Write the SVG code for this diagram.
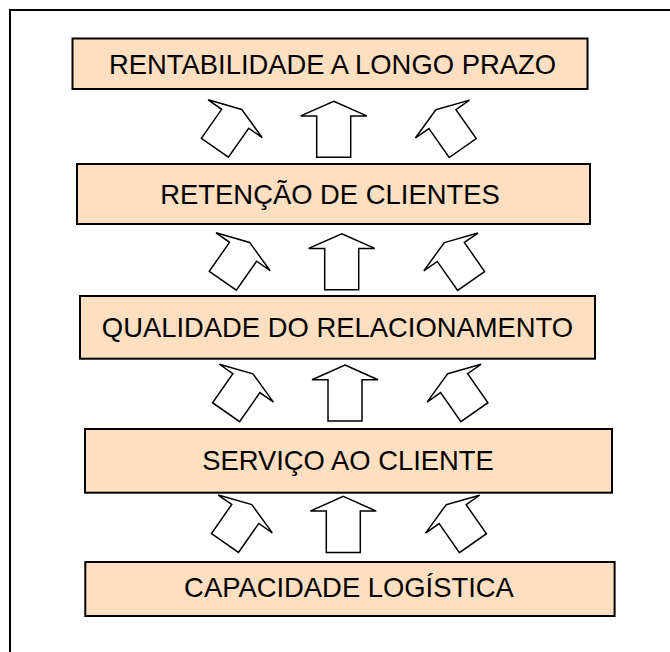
<svg xmlns="http://www.w3.org/2000/svg" xmlns:xlink="http://www.w3.org/1999/xlink" width="670" height="652" viewBox="0 0 670 652">
<style>
.frame{fill:none;stroke:#000;stroke-width:2}
.box{fill:#FFDFC1;stroke:#000;stroke-width:2}
.lbl{font-family:"Liberation Sans",Arial,sans-serif;font-size:27.4px;fill:#000;text-anchor:middle}
.arr{fill:#fff;stroke:#000;stroke-width:1.5;stroke-linejoin:miter}
</style>
<defs>
<path id="arrT" class="arr" d="M0,-28 L33,-13.3 L17,-13.3 L17,28 L-17,28 L-17,-13.3 L-33,-13.3 Z"/>
<path id="arrS" class="arr" d="M0,-23.4 L33,-12 L16.5,-12 L16.5,23.4 L-16.5,23.4 L-16.5,-12 L-33,-12 Z"/>
</defs>
<rect class="frame" x="10" y="10" width="720" height="720"/>
<g id="n1"><rect class="box" x="72.5" y="38.5" width="515" height="50.5"/><text class="lbl" x="332.5" y="74.3">RENTABILIDADE A LONGO PRAZO</text></g>
<g id="n2"><rect class="box" x="77" y="164" width="513" height="60"/><text class="lbl" x="330" y="203.5">RETENÇÃO DE CLIENTES</text></g>
<g id="n3"><rect class="box" x="80" y="296" width="515" height="62.7"/><text class="lbl" x="337.5" y="336.5">QUALIDADE DO RELACIONAMENTO</text></g>
<g id="n4"><rect class="box" x="85" y="429" width="527" height="63.7"/><text class="lbl" x="348" y="470">SERVIÇO AO CLIENTE</text></g>
<g id="n5"><rect class="box" x="85.3" y="562" width="529.3" height="54"/><text class="lbl" x="349" y="597.3">CAPACIDADE LOGÍSTICA</text></g>
<g id="connectors">
<use xlink:href="#arrS" transform="translate(228.3,128.6) rotate(35)"/>
<use xlink:href="#arrT" transform="translate(333.7,129.2)"/>
<use xlink:href="#arrS" transform="translate(449.3,128.9) rotate(-35)"/>
<use xlink:href="#arrS" transform="translate(236.2,261.6) rotate(35)"/>
<use xlink:href="#arrT" transform="translate(341.7,261.7)"/>
<use xlink:href="#arrS" transform="translate(457.7,261.8) rotate(-35)"/>
<use xlink:href="#arrS" transform="translate(239.5,393) rotate(35)"/>
<use xlink:href="#arrT" transform="translate(345,393)"/>
<use xlink:href="#arrS" transform="translate(461,393) rotate(-35)"/>
<use xlink:href="#arrS" transform="translate(238.4,523.8) rotate(35)"/>
<use xlink:href="#arrT" transform="translate(343.3,524.4)"/>
<use xlink:href="#arrS" transform="translate(459.5,524) rotate(-35)"/>
</g>
</svg>
